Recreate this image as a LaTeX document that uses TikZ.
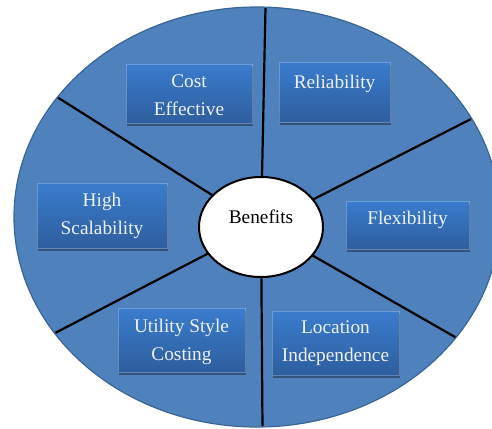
\documentclass[tikz,border=0pt]{standalone}
\usepackage{fontspec}
\setmainfont{Liberation Serif}
\usetikzlibrary{shapes.geometric,shadows,calc}
\definecolor{pieblue}{HTML}{4F81BD}
\definecolor{pieedge}{HTML}{3A6496}
\definecolor{boxtop}{HTML}{3A7CCD}
\definecolor{boxbot}{HTML}{2E5E9E}
\definecolor{txt}{HTML}{EEF2FA}
\begin{document}
\begin{tikzpicture}[x=1pt,y=-1pt,
  tile/.style={rectangle, inner sep=0pt, top color=boxtop, bottom color=boxbot,
    draw=white, draw opacity=0.25, line width=0.4pt,
    text=txt, font=\fontsize{19.3}{28}\selectfont, align=center,
    drop shadow={shadow xshift=1pt, shadow yshift=-2.5pt, opacity=0.35, fill=black}},
  divider/.style={line width=2.2pt, black},
]
\useasboundingbox (0,0) rectangle (492,428);
% outer disc
\node[ellipse, draw=pieedge, fill=pieblue, line width=1.2pt, inner sep=0pt,
      minimum width=486pt, minimum height=420pt] (pie) at (257,217) {};
% dividers
\coordinate (hub) at (261,226);
\coordinate (e1) at ($(hub)!1.3!(57,97)$);
\coordinate (e2) at ($(hub)!1.3!(473,118)$);
\coordinate (e3) at ($(hub)!1.3!(57,332)$);
\coordinate (e4) at ($(hub)!1.3!(455,337)$);
\coordinate (e5) at ($(hub)!1.3!(265.5,7)$);
\coordinate (e6) at ($(hub)!1.3!(262.5,428)$);
\begin{scope}
  \clip (257,217) ellipse [x radius=242pt, y radius=209pt];
  \draw[divider] (hub) -- (e1);
  \draw[divider] (hub) -- (e2);
  \draw[divider] (hub) -- (e3);
  \draw[divider] (hub) -- (e4);
  \draw[divider] (hub) -- (e5);
  \draw[divider] (hub) -- (e6);
\end{scope}
% centre
\node[ellipse, draw=black, fill=white, line width=2pt, inner sep=0pt,
      minimum width=124pt, minimum height=100pt,
      font=\fontsize{19.3}{28}\selectfont, text height=12pt, text depth=20pt]
      (ben) at (261,227) {Benefits};
% tiles
\node[tile, minimum width=126pt, minimum height=59pt] (cost) at (189,93.5) {\rule{0pt}{17pt}Cost\\Effective};
\node[tile, minimum width=111pt, minimum height=60pt, text height=13pt, text depth=21pt] (rel) at (334.5,92) {Reliability};
\node[tile, minimum width=130pt, minimum height=65pt] (high) at (102,215.5) {\rule{0pt}{15pt}High\\Scalability};
\node[tile, minimum width=123pt, minimum height=48pt, text height=13pt, text depth=15pt] (flex) at (407.5,225) {Flexibility};
\node[tile, minimum width=127pt, minimum height=64pt] (util) at (181.5,340) {\rule{0pt}{18pt}Utility Style\\Costing};
\node[tile, minimum width=127pt, minimum height=64pt] (loc) at (335.5,343) {\rule{0pt}{14pt}Location\\Independence};
\end{tikzpicture}
\end{document}
